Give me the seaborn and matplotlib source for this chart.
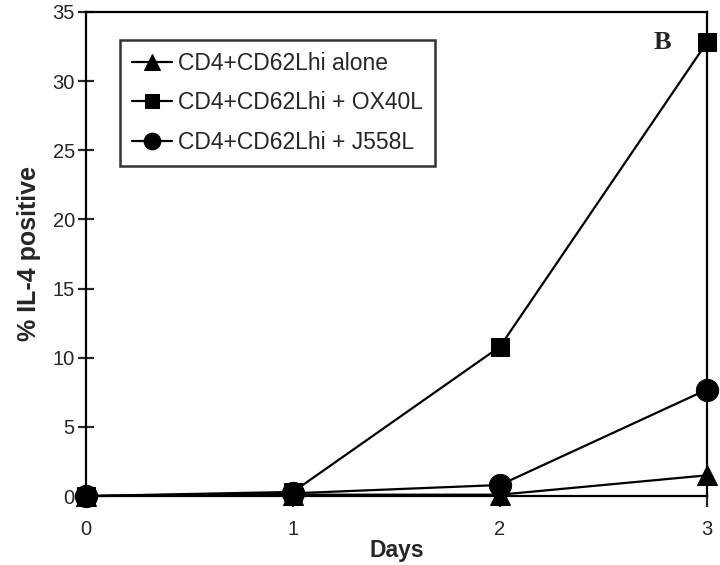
import pandas as pd
import matplotlib
matplotlib.use('Agg')
import matplotlib.pyplot as plt
import seaborn as sns

# values
days = [0, 1, 2, 3]
alone = [0.0, 0.1, 0.1, 1.5]
ox40l = [0.0, 0.3, 10.8, 32.8]
j558l = [0.0, 0.2, 0.8, 7.7]
labels = ['CD4+CD62Lhi alone', 'CD4+CD62Lhi + OX40L', 'CD4+CD62Lhi + J558L']
markers = ['^', 's', 'o']
msizes = [15, 13, 16]

sns.set_style('ticks')
plt.rcParams['font.family'] = ['Liberation Sans', 'DejaVu Sans']

fig = plt.figure(figsize=(7.2, 5.65), dpi=100)
ax = fig.add_axes([0.1194, 0.122, 0.8625, 0.857])

for lab, vals, mk, ms in zip(labels, [alone, ox40l, j558l], markers, msizes):
    df = pd.DataFrame({'Days': days, 'value': vals})
    sns.lineplot(data=df, x='Days', y='value', color='black', marker=mk,
                 markersize=ms, markeredgecolor='black', linewidth=1.6,
                 label=lab, ax=ax, clip_on=False)

ax.set_xlim(0, 3)
ax.set_ylim(0, 35)
ax.set_xticks(days)
ax.set_yticks(range(0, 36, 5))
ax.tick_params(axis='y', direction='inout', length=12, width=1.6, labelsize=14.5, pad=2)
ax.tick_params(axis='x', direction='out', length=8, width=1.6, labelsize=14.5, pad=9)
for s in ax.spines.values():
    s.set_linewidth(1.6)
    s.set_color('black')
    s.set_visible(True)

ax.set_xlabel('Days', fontsize=16.5, fontweight='bold', va='center')
ax.xaxis.set_label_coords(0.5, -0.112)
ax.set_ylabel('% IL-4 positive', fontsize=18, fontweight='bold', labelpad=8)

leg = ax.legend(loc='upper left', bbox_to_anchor=(0.0548, 0.942), fontsize=16.5,
                frameon=True, fancybox=False, edgecolor='black', handlelength=1.75,
                handletextpad=0.25, borderpad=0.52, borderaxespad=0,
                labelspacing=0.72)
leg.get_frame().set_linewidth(1.8)
for h, ms in zip(leg.legend_handles, [11, 10, 12]):
    h.set_markersize(ms)

ax.text(2.787, 32.8, 'B', fontsize=19, fontweight='bold', family='Liberation Serif',
        ha='center', va='center')

fig.savefig('out.png', dpi=100)
